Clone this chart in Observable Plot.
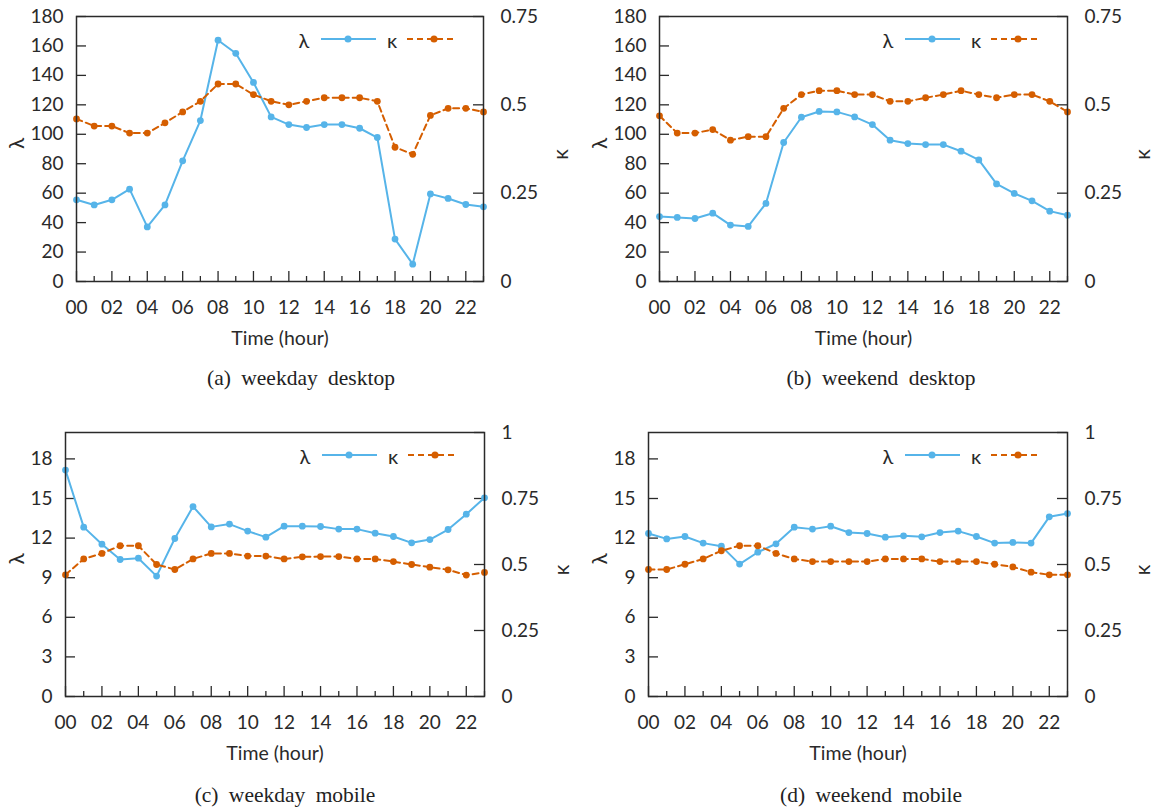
<!DOCTYPE html>
<html>
<head>
<meta charset="utf-8">
<script src="https://cdn.jsdelivr.net/npm/d3@7"></script>
<script src="https://cdn.jsdelivr.net/npm/@observablehq/plot@0.6"></script>
<style>
  html, body { margin: 0; padding: 0; background: #fff; }
  #root { position: relative; width: 1156px; height: 812px; overflow: hidden; }
  .panel { position: absolute; }
  .cap { position: absolute; width: 578px; text-align: center; font-family: "Liberation Serif", "DejaVu Serif", serif; font-size: 21.5px; color: #222; word-spacing: 5px; }
</style>
</head>
<body>
<div id="root"></div>
<script>
const hours = d3.range(24);
const evenHours = hours.filter(h => h % 2 === 0);
const oddHours = hours.filter(h => h % 2 === 1);

// (a) weekday desktop
const lamWeekdayDesktop = [55.5, 52, 55.5, 62.7, 37.1, 52, 82, 109.3, 163.9, 155, 135.2, 111.8, 106.6, 104.6, 106.6, 106.6, 104.1, 97.8, 28.8, 11.8, 59.5, 56.4, 52.3, 50.7];
const kapWeekdayDesktop = [0.46, 0.44, 0.44, 0.42, 0.42, 0.449, 0.48, 0.51, 0.559, 0.559, 0.529, 0.51, 0.50, 0.51, 0.52, 0.52, 0.52, 0.51, 0.38, 0.36, 0.47, 0.49, 0.49, 0.48];
// (b) weekend desktop
const lamWeekendDesktop = [44.1, 43.5, 42.8, 46.4, 38.3, 37.4, 53, 94.4, 111.6, 115.5, 115.2, 111.8, 106.6, 96, 93.7, 93, 93, 88.5, 82.6, 66.3, 59.8, 54.8, 47.8, 45];
const kapWeekendDesktop = [0.469, 0.42, 0.42, 0.43, 0.40, 0.41, 0.41, 0.49, 0.529, 0.54, 0.54, 0.529, 0.529, 0.51, 0.51, 0.52, 0.529, 0.54, 0.529, 0.52, 0.529, 0.529, 0.51, 0.48];
// (c) weekday mobile
const lamWeekdayMobile = [17.15, 12.83, 11.54, 10.38, 10.48, 9.12, 11.97, 14.39, 12.85, 13.06, 12.53, 12.07, 12.9, 12.9, 12.88, 12.68, 12.68, 12.37, 12.12, 11.64, 11.89, 12.65, 13.81, 15.05];
const kapWeekdayMobile = [0.461, 0.521, 0.542, 0.571, 0.571, 0.50, 0.481, 0.521, 0.542, 0.542, 0.532, 0.532, 0.521, 0.529, 0.53, 0.53, 0.521, 0.521, 0.511, 0.50, 0.49, 0.48, 0.46, 0.47];
// (d) weekend mobile
const lamWeekendMobile = [12.35, 11.94, 12.12, 11.62, 11.39, 10.03, 10.93, 11.57, 12.83, 12.68, 12.9, 12.42, 12.35, 12.07, 12.17, 12.1, 12.42, 12.53, 12.12, 11.62, 11.67, 11.62, 13.61, 13.86];
const kapWeekendMobile = [0.481, 0.481, 0.501, 0.521, 0.552, 0.571, 0.571, 0.542, 0.521, 0.511, 0.511, 0.511, 0.511, 0.521, 0.521, 0.521, 0.511, 0.511, 0.511, 0.501, 0.491, 0.471, 0.461, 0.461];

const lamTicksDesktop = [0, 20, 40, 60, 80, 100, 120, 140, 160, 180];
const kapTicksDesktop = [0, 0.25, 0.5, 0.75];
const lamTicksMobile = [0, 3, 6, 9, 12, 15, 18];
const kapTicksMobile = [0, 0.25, 0.5, 0.75, 1];

const captions = ["(a) weekday desktop", "(b) weekend desktop", "(c) weekday mobile", "(d) weekend mobile"];
const xLabel = "Time (hour)";
const blue = "#56B4E9";
const orange = "#D55E00";
const ink = "#2a2a2a";

const W0 = 578, H0 = 360;

function panel(cfg) {
  const {lam, kap, lamMax, lamTicks, kapMax, kapTicks, ml, mr, mt, mb, lamDx, kapDx} = cfg;
  const f = lamMax / kapMax;
  const W = W0 - ml - mr, H = H0 - mt - mb;
  const lamData = hours.map((h, i) => ({h, v: lam[i]}));
  const kapData = hours.map((h, i) => ({h, v: kap[i] * f}));
  const fmtK = d => String(+(d / f).toFixed(2));
  const svg = Plot.plot({
    width: W0, height: H0,
    marginLeft: ml, marginRight: mr, marginTop: mt, marginBottom: mb,
    x: {domain: [0, 23]},
    y: {domain: [0, lamMax]},
    style: {fontFamily: "Lato, 'Open Sans', sans-serif", fontSize: "19px", color: ink, background: "transparent", overflow: "visible"},
    marks: [
      Plot.ruleX(evenHours, {insetTop: H - 10, stroke: ink, strokeWidth: 1.3}),
      Plot.ruleX(oddHours, {insetTop: H - 5, stroke: ink, strokeWidth: 1.3}),
      Plot.ruleY(lamTicks, {insetRight: W - 10, stroke: ink, strokeWidth: 1.3}),
      Plot.ruleY(kapTicks.map(k => k * f), {insetLeft: W - 10, stroke: ink, strokeWidth: 1.3}),
      Plot.axisX({ticks: evenHours, tickSize: 0, tickPadding: 19, tickFormat: d => String(d).padStart(2, "0"), label: null, fontSize: 19}),
      Plot.axisY({anchor: "left", ticks: lamTicks, tickSize: 0, tickPadding: 13, label: null, fontSize: 19}),
      Plot.axisY({anchor: "right", ticks: kapTicks.map(k => k * f), tickFormat: fmtK, tickSize: 0, tickPadding: 17, label: null, fontSize: 19}),
      Plot.lineY(lamData, {x: "h", y: "v", stroke: blue, strokeWidth: 2}),
      Plot.dot(lamData, {x: "h", y: "v", r: 3.4, fill: blue}),
      Plot.lineY(kapData, {x: "h", y: "v", stroke: orange, strokeWidth: 2, strokeDasharray: "6,4"}),
      Plot.dot(kapData, {x: "h", y: "v", r: 3.4, fill: orange}),
      Plot.frame({stroke: ink, strokeWidth: 1.5}),
      Plot.text([xLabel], {text: d => d, frameAnchor: "bottom", dy: 57, fontSize: 19.5, fill: ink, lineAnchor: "middle"}),
      Plot.text(["λ"], {text: d => d, frameAnchor: "left", dx: lamDx, rotate: -90, fontSize: 21, fill: ink}),
      Plot.text(["κ"], {text: d => d, frameAnchor: "right", dx: kapDx, rotate: -90, fontSize: 21, fill: ink})
    ]
  });
  // legend inside the frame, top right
  const R = W0 - mr, T = mt;
  const g = d3.select(svg).append("g").attr("font-family", "Lato, sans-serif").attr("font-size", 20).attr("fill", ink);
  g.append("text").attr("x", R - 179).attr("y", T + 32).attr("text-anchor", "middle").text("λ");
  g.append("line").attr("x1", R - 162).attr("x2", R - 107).attr("y1", T + 23).attr("y2", T + 23).attr("stroke", blue).attr("stroke-width", 2);
  g.append("circle").attr("cx", R - 135).attr("cy", T + 23).attr("r", 3.5).attr("fill", blue);
  g.append("text").attr("x", R - 91).attr("y", T + 32).attr("text-anchor", "middle").text("κ");
  g.append("line").attr("x1", R - 76).attr("x2", R - 27).attr("y1", T + 23).attr("y2", T + 23).attr("stroke", orange).attr("stroke-width", 2).attr("stroke-dasharray", "6,4");
  g.append("circle").attr("cx", R - 49).attr("cy", T + 23).attr("r", 3.5).attr("fill", orange);
  return svg;
}

const root = document.getElementById("root");
const specs = [
  {left: 0, top: 0, lam: lamWeekdayDesktop, kap: kapWeekdayDesktop, lamMax: 180, lamTicks: lamTicksDesktop, kapMax: 0.75, kapTicks: kapTicksDesktop, ml: 76, mr: 95, mt: 16, mb: 79, lamDx: -59, kapDx: 78, capTop: 366, capLeft: 12},
  {left: 578, top: 0, lam: lamWeekendDesktop, kap: kapWeekendDesktop, lamMax: 180, lamTicks: lamTicksDesktop, kapMax: 0.75, kapTicks: kapTicksDesktop, ml: 81, mr: 89, mt: 16, mb: 79, lamDx: -59, kapDx: 76, capTop: 366, capLeft: 578 + 14},
  {left: 0, top: 416, lam: lamWeekdayMobile, kap: kapWeekdayMobile, lamMax: 20, lamTicks: lamTicksMobile, kapMax: 1, kapTicks: kapTicksMobile, ml: 65, mr: 94, mt: 16, mb: 80, lamDx: -48, kapDx: 78, capTop: 783, capLeft: -4},
  {left: 578, top: 416, lam: lamWeekendMobile, kap: kapWeekendMobile, lamMax: 20, lamTicks: lamTicksMobile, kapMax: 1, kapTicks: kapTicksMobile, ml: 70, mr: 89, mt: 16, mb: 80, lamDx: -48, kapDx: 76, capTop: 783, capLeft: 578 + 4}
];
specs.forEach((s, i) => {
  const div = document.createElement("div");
  div.className = "panel";
  div.style.left = s.left + "px";
  div.style.top = s.top + "px";
  div.appendChild(panel(s));
  root.appendChild(div);
  const cap = document.createElement("div");
  cap.className = "cap";
  cap.style.left = s.capLeft + "px";
  cap.style.top = s.capTop + "px";
  cap.textContent = captions[i];
  root.appendChild(cap);
});
</script>
</body>
</html>
